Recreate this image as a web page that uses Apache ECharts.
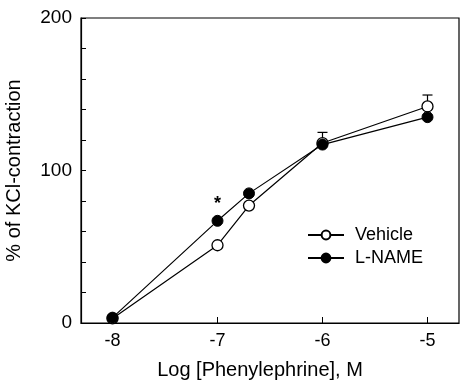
<!DOCTYPE html>
<html><head><meta charset="utf-8">
<script src="https://cdn.jsdelivr.net/npm/echarts@6/dist/echarts.min.js"></script>
<style>html,body{margin:0;padding:0;background:#fff}#c{width:460px;height:381px}</style>
</head><body><div id="c"></div>
<script>
var logConc = [-8, -7, -6.7, -6, -5];
var vehicle = [3, 51, 77, 118, 142];
var lname = [3.5, 67, 85, 117, 135];
var vehicleErrTop = [null, null, null, 125, 149.5];
var xTicks = [-8, -7, -6, -5];
var yLabels = [0, 100, 200];
var starPos = [-7, 78];

var font = 'Liberation Sans, Arial, sans-serif';
function pairs(xs, ys){ return xs.map(function(x,i){return [x, ys[i]];}); }
var errData = [];
logConc.forEach(function(x,i){ if(vehicleErrTop[i]!=null) errData.push([x, vehicle[i], vehicleErrTop[i]]); });

var chart = echarts.init(document.getElementById('c'));
chart.setOption({
  animation: false,
  grid: {left: 81, top: 18, right: 1, bottom: 58, show: true, borderColor: '#000', borderWidth: 1.2,
         outerBoundsMode: 'none', containLabel: false},
  legend: {
    left: 302, top: 221, orient: 'vertical', itemGap: 5, itemWidth: 36, itemHeight: 11,
    textStyle: {fontFamily: font, fontSize: 18, color: '#000', padding: [0, 0, 0, 6]},
    data: ['Vehicle', 'L-NAME']
  },
  xAxis: {
    type: 'value', min: -8.3, max: -4.7,
    name: 'Log [Phenylephrine], M', nameLocation: 'middle', nameGap: 37,
    nameTextStyle: {fontFamily: font, fontSize: 20, color: '#000', padding: [0, 20, 0, 0]},
    axisLine: {lineStyle: {color: '#000', width: 1.2}},
    axisTick: {inside: true, length: 6, customValues: xTicks, lineStyle: {color: '#000'}},
    axisLabel: {customValues: xTicks, fontFamily: font, fontSize: 18, color: '#000', margin: 9},
    splitLine: {show: false}
  },
  yAxis: {
    type: 'value', min: 0, max: 200, interval: 20,
    name: '% of KCl-contraction', nameLocation: 'middle', nameGap: 57, nameRotate: 90,
    nameTextStyle: {fontFamily: font, fontSize: 20, color: '#000'},
    axisLine: {show: true, lineStyle: {color: '#000', width: 1.2}},
    axisTick: {inside: true, length: 5, lineStyle: {color: '#000'}},
    axisLabel: {fontFamily: font, fontSize: 19, color: '#000', margin: 9,
      formatter: function(v){ return yLabels.indexOf(v) >= 0 ? String(v) : ''; }},
    splitLine: {show: false}
  },
  series: [
    {
      type: 'custom', name: 'err', silent: true, z: 1,
      renderItem: function(params, api){
        var p0 = api.coord([api.value(0), api.value(1)]);
        var p1 = api.coord([api.value(0), api.value(2)]);
        var st = {stroke: '#000', lineWidth: 1.2};
        return {type: 'group', children: [
          {type: 'line', shape: {x1: p0[0], y1: p0[1], x2: p1[0], y2: p1[1]}, style: st},
          {type: 'line', shape: {x1: p1[0]-5, y1: p1[1], x2: p1[0]+5, y2: p1[1]}, style: st}
        ]};
      },
      encode: {x: 0, y: [1, 2]},
      data: errData
    },
    {
      type: 'line', name: 'Vehicle', data: pairs(logConc, vehicle), z: 3,
      symbol: 'circle', symbolSize: 11,
      lineStyle: {color: '#000', width: 1.2},
      itemStyle: {color: '#fff', borderColor: '#000', borderWidth: 1.3}
    },
    {
      type: 'line', name: 'L-NAME', data: pairs(logConc, lname), z: 4,
      symbol: 'circle', symbolSize: 11,
      lineStyle: {color: '#000', width: 1.2},
      itemStyle: {color: '#000', borderColor: '#000', borderWidth: 1},
      markPoint: {
        symbol: 'circle', symbolSize: 0,
        label: {show: true, formatter: '*', fontFamily: font, fontSize: 18, color: '#000', fontWeight: 'bold'},
        data: [{coord: starPos}]
      }
    }
  ]
});
</script></body></html>
